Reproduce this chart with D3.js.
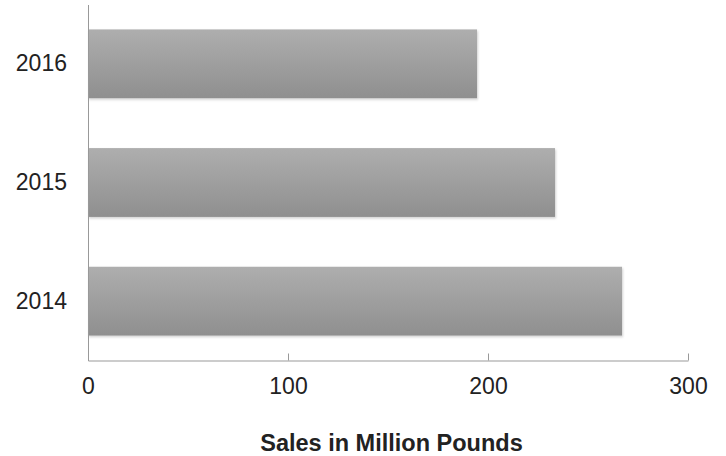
<!DOCTYPE html>
<html><head><meta charset="utf-8">
<script src="https://cdn.jsdelivr.net/npm/d3@7"></script>
<style>body{margin:0;background:#fff}svg{display:block}</style>
</head><body>
<svg id="chart" width="726" height="456"></svg>
<script>
const categories = ["2014", "2015", "2016"];
const sales = [267, 233.5, 194.5];
const xTicks = [0, 100, 200, 300];
const xTitle = "Sales in Million Pounds";

const svg = d3.select("#chart");
const margin = {left: 88, right: 38, top: 4.5, bottom: 95.5};
const W = 726, H = 456;

const x = d3.scaleLinear().domain([0, 300]).range([margin.left, W - margin.right]);
const y = d3.scaleBand().domain(categories.slice().reverse())
  .range([margin.top, H - margin.bottom]).paddingInner(0.42).paddingOuter(0.21);

const defs = svg.append("defs");
const grad = defs.append("linearGradient").attr("id", "barGrad")
  .attr("x1", 0).attr("y1", 0).attr("x2", 0).attr("y2", 1);
grad.append("stop").attr("offset", "0%").attr("stop-color", "#aeaeae");
grad.append("stop").attr("offset", "100%").attr("stop-color", "#8f8f8f");
const f = defs.append("filter").attr("id", "shadow").attr("x", "-5%").attr("y", "-10%").attr("width", "110%").attr("height", "130%");
f.append("feDropShadow").attr("dx", 1).attr("dy", 1.5).attr("stdDeviation", 1.2)
  .attr("flood-color", "#000").attr("flood-opacity", 0.18);

svg.append("g").selectAll("rect").data(categories).join("rect")
  .attr("x", x(0))
  .attr("y", d => y(d))
  .attr("width", (d, i) => x(sales[i]) - x(0))
  .attr("height", y.bandwidth())
  .attr("fill", "url(#barGrad)")
  .attr("filter", "url(#shadow)");

// x axis
const xAxis = d3.axisBottom(x).tickValues(xTicks).tickSizeInner(-7).tickSizeOuter(0).tickPadding(17);
const gx = svg.append("g").attr("transform", `translate(0,${H - margin.bottom})`).call(xAxis);
gx.select(".domain").attr("stroke", "#999").attr("stroke-width", 1);
gx.selectAll(".tick line").attr("stroke", "#999");
gx.selectAll(".tick text").attr("font-family", "Liberation Sans, Arial, sans-serif")
  .attr("font-size", 23).attr("fill", "#222");

// y axis
const yAxis = d3.axisLeft(y).tickSize(0).tickPadding(21);
const gy = svg.append("g").attr("transform", `translate(${margin.left},0)`).call(yAxis);
gy.select(".domain").attr("stroke", "#999").attr("stroke-width", 1);
gy.selectAll(".tick text").attr("font-family", "Liberation Sans, Arial, sans-serif")
  .attr("font-size", 23).attr("fill", "#222");

svg.append("text")
  .attr("x", 391.5).attr("y", 451)
  .attr("text-anchor", "middle")
  .attr("font-family", "Liberation Sans, Arial, sans-serif")
  .attr("font-weight", "bold").attr("font-size", 23.5).attr("fill", "#222")
  .text(xTitle);
</script>
</body></html>
